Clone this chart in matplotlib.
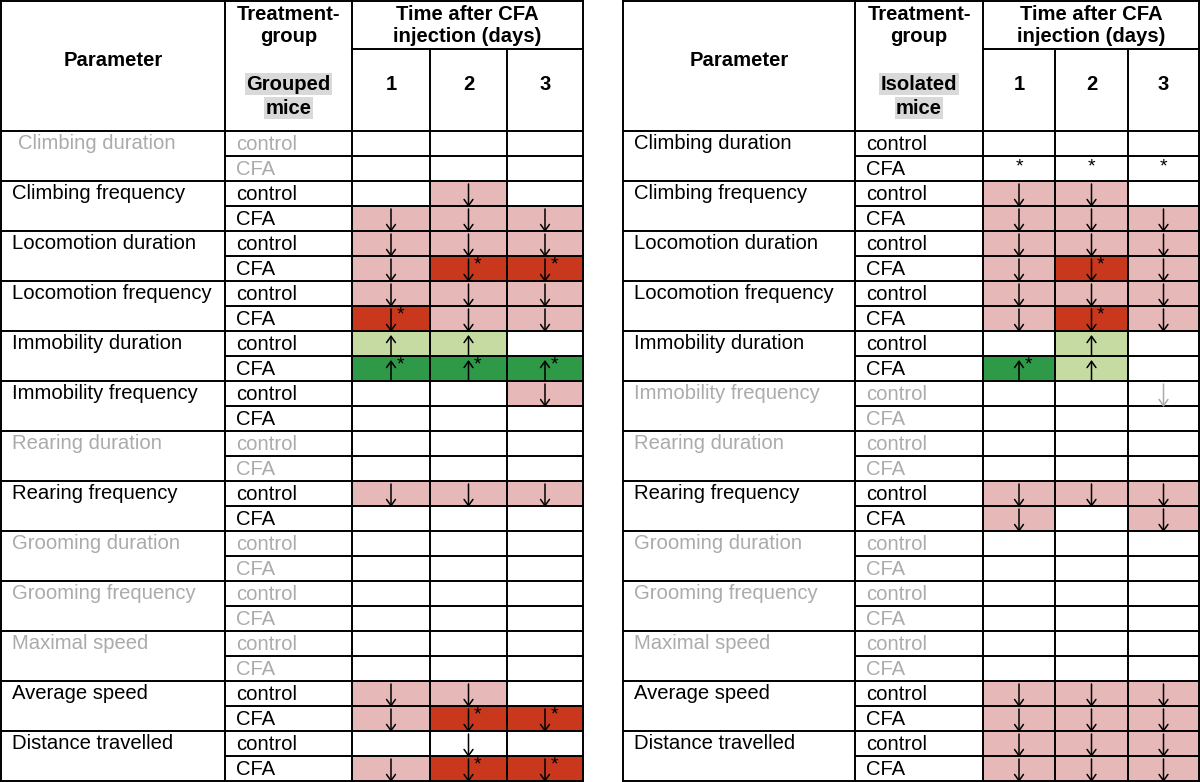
import matplotlib.pyplot as plt
from matplotlib.patches import Rectangle

plt.rcParams['font.family'] = ['Liberation Sans', 'DejaVu Sans']

params = ['Climbing duration', 'Climbing frequency', 'Locomotion duration',
          'Locomotion frequency', 'Immobility duration', 'Immobility frequency',
          'Rearing duration', 'Rearing frequency', 'Grooming duration',
          'Grooming frequency', 'Maximal speed', 'Average speed',
          'Distance travelled']
groups = ['control', 'CFA']
days = ['1', '2', '3']

left_gray = ['Climbing duration', 'Rearing duration', 'Grooming duration',
             'Grooming frequency', 'Maximal speed']
right_gray = ['Immobility frequency', 'Rearing duration', 'Grooming duration',
              'Grooming frequency', 'Maximal speed']

# d = down (pink), D = down* (red), u = up (light green), U = up* (green)
# a = plain down arrow, s = star only, g = grey down arrow
left_marks = [
    ['', '', ''], ['', '', ''],
    ['', 'd', ''], ['d', 'd', 'd'],
    ['d', 'd', 'd'], ['d', 'D', 'D'],
    ['d', 'd', 'd'], ['D', 'd', 'd'],
    ['u', 'u', ''], ['U', 'U', 'U'],
    ['', '', 'd'], ['', '', ''],
    ['', '', ''], ['', '', ''],
    ['d', 'd', 'd'], ['', '', ''],
    ['', '', ''], ['', '', ''],
    ['', '', ''], ['', '', ''],
    ['', '', ''], ['', '', ''],
    ['d', 'd', ''], ['d', 'D', 'D'],
    ['', 'a', ''], ['d', 'D', 'D'],
]
right_marks = [
    ['', '', ''], ['s', 's', 's'],
    ['d', 'd', ''], ['d', 'd', 'd'],
    ['d', 'd', 'd'], ['d', 'D', 'd'],
    ['d', 'd', 'd'], ['d', 'D', 'd'],
    ['', 'u', ''], ['U', 'u', ''],
    ['', '', 'g'], ['', '', ''],
    ['', '', ''], ['', '', ''],
    ['d', 'd', 'd'], ['d', '', 'd'],
    ['', '', ''], ['', '', ''],
    ['', '', ''], ['', '', ''],
    ['', '', ''], ['', '', ''],
    ['d', 'd', 'd'], ['d', 'd', 'd'],
    ['d', 'd', 'd'], ['d', 'd', 'd'],
]

fills = {'d': '#e6b9b8', 'D': '#c9381d', 'u': '#c6dba2', 'U': '#2e9a48'}
gray = '#ababab'
fs = 14.6

fig = plt.figure(figsize=(12, 7.82), dpi=100)
ax = fig.add_axes([0, 0, 1, 1])
ax.set_xlim(0, 1200)
ax.set_ylim(782, 0)
ax.axis('off')

head_h = 131
sub_h = 49
row_h = 25


def arrow(cx, y_from, y_to, color):
    ax.annotate('', xy=(cx, y_to), xytext=(cx, y_from),
                arrowprops=dict(arrowstyle='->,head_length=0.45,head_width=0.32',
                                color=color, lw=1.1, shrinkA=0, shrinkB=0),
                zorder=3)


def draw_table(edges, label, gray_params, marks, indent_first=0):
    x0, xt, xd, x1, x2, x3 = edges
    n = len(params) * 2
    bottom = head_h + n * row_h
    lw = 1.4
    # fills and marks
    for r in range(n):
        yt = head_h + r * row_h
        dcols = [(xd, x1), (x1, x2), (x2, x3)]
        for c, code in enumerate(marks[r]):
            a, b = dcols[c]
            cx = (a + b) / 2
            if code in fills:
                ax.add_patch(Rectangle((a, yt), b - a, row_h,
                                       facecolor=fills[code], edgecolor='none'))
            if code in ('d', 'D', 'a', 'g'):
                arrow(cx, yt + 3, yt + row_h + 1,
                      gray if code == 'g' else 'black')
            if code in ('u', 'U'):
                arrow(cx, yt + row_h, yt + 4, 'black')
            if code in ('D', 'U'):
                ax.text(cx + 9, yt + 9, '*', ha='center', va='center',
                        fontsize=14, color='black', zorder=4)
            if code == 's':
                ax.text(cx, yt + 11, '*', ha='center', va='center',
                        fontsize=14, color='black')
    # row texts
    for i, p in enumerate(params):
        col = gray if p in gray_params else 'black'
        yt = head_h + 2 * i * row_h
        dx = indent_first if i == 0 else 0
        ax.text(x0 + 11 + dx, yt + row_h / 2, p, ha='left', va='center',
                fontsize=fs, color=col)
        for j, g in enumerate(groups):
            ax.text(xt + 11, yt + j * row_h + row_h / 2 + 1, g, ha='left',
                    va='center', fontsize=fs, color=col)
    # lines
    for i in range(len(params) + 1):
        y = head_h + 2 * i * row_h
        ax.plot([x0, x3], [y, y], color='black', lw=lw, solid_capstyle='projecting')
    for i in range(len(params)):
        y = head_h + (2 * i + 1) * row_h
        ax.plot([xt, x3], [y, y], color='black', lw=lw)
    ax.plot([x0, x3], [1, 1], color='black', lw=lw)
    ax.plot([xd, x3], [sub_h, sub_h], color='black', lw=lw)
    for x in (x0, xt, xd, x3):
        ax.plot([x, x], [1, bottom], color='black', lw=lw)
    for x in (x1, x2):
        ax.plot([x, x], [sub_h, bottom], color='black', lw=lw)
    # header
    ax.text((x0 + xt) / 2, 60, 'Parameter', ha='center', va='center',
            fontsize=fs, fontweight='bold')
    ax.text((xt + xd) / 2, 14, 'Treatment-', ha='center', va='center',
            fontsize=fs, fontweight='bold')
    ax.text((xt + xd) / 2, 37, 'group', ha='center', va='center',
            fontsize=fs, fontweight='bold')
    words = label.split()
    for k, w in enumerate(words):
        ax.text((xt + xd) / 2, 84 + k * 24, w, ha='center', va='center',
                fontsize=fs, fontweight='bold',
                bbox=dict(facecolor='#d9d9d9', edgecolor='none', pad=1))
    ax.text((xd + x3) / 2, 14, 'Time after CFA', ha='center', va='center',
            fontsize=fs, fontweight='bold')
    ax.text((xd + x3) / 2, 37, 'injection (days)', ha='center', va='center',
            fontsize=fs, fontweight='bold')
    for c, (a, b) in enumerate([(xd, x1), (x1, x2), (x2, x3)]):
        ax.text((a + b) / 2, 84, days[c], ha='center', va='center',
                fontsize=fs, fontweight='bold')


draw_table([1, 225, 352, 430, 507, 583], 'Grouped mice', left_gray,
           left_marks, indent_first=6)
draw_table([623, 855, 983, 1055, 1128, 1199], 'Isolated mice', right_gray,
           right_marks)

fig.savefig('out.png', dpi=100)
